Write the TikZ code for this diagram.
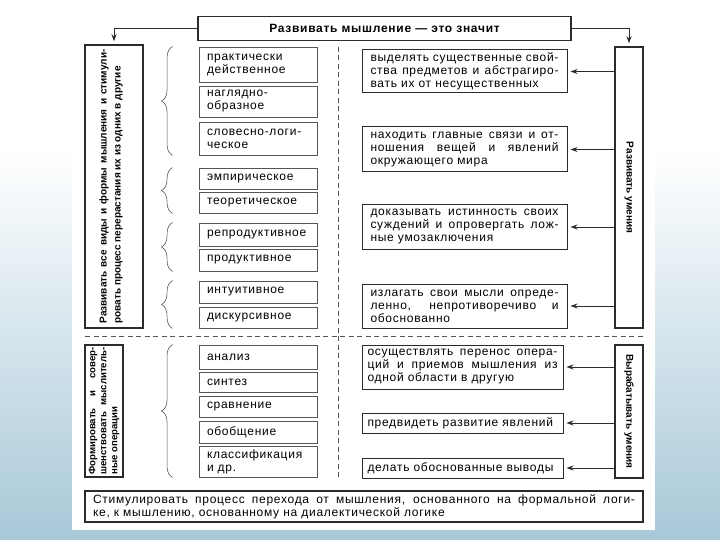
\documentclass[tikz,border=0pt]{standalone}
\usepackage{fontspec}
\setmainfont{Liberation Sans}
\newfontfamily\boxfont[LetterSpace=6]{Liberation Sans}
\newfontfamily\labelfont{Liberation Sans}
\usetikzlibrary{arrows.meta,decorations.pathreplacing}
\definecolor{SlideBlue}{HTML}{A8C8D8}
\definecolor{InkGray}{HTML}{2B2B2B}
\definecolor{FrameGray}{HTML}{555555}

\begin{document}
\begin{tikzpicture}[
    x=1pt,y=-1pt,
    font=\boxfont\fontsize{12}{13}\selectfont,
    >={Stealth[length=7pt,width=5pt]},
    headbox/.style={draw=InkGray,line width=1.4pt,minimum width=373pt,minimum height=24pt,font=\boxfont\bfseries\fontsize{12}{13}\selectfont},
    formbox/.style={draw=FrameGray,line width=0.9pt,text width=102pt,inner xsep=8pt,inner ysep=0pt,align=left},
    skillbox/.style={draw=InkGray,line width=1pt,text width=188pt,inner xsep=8.5pt,inner ysep=0pt,align=justify},
    lowbox/.style={skillbox,text width=190pt,inner xsep=5.5pt},
    tallbox/.style={draw=InkGray,line width=1.5pt,inner sep=0pt},
    vlabel/.style={font=\labelfont\bfseries\fontsize{10}{14}\selectfont,align=justify,inner sep=0pt},
    arr/.style={->,line width=0.9pt,draw=InkGray,shorten >=3pt},
    sep/.style={dash pattern=on 5pt off 3.5pt,line width=0.8pt,draw=FrameGray},
    brace/.style={decorate,decoration={brace,amplitude=11pt},line width=0.6pt,draw=FrameGray}
  ]
  \useasboundingbox (0,0) rectangle (720,540);
  \fill[white] (0,0) rectangle (720,540);
  \shade[top color=white,bottom color=SlideBlue] (0,150) rectangle (720,540);
  \fill[white] (72,0) rectangle (655,530);

  \node[headbox] (head) at (384.5,28.5) {Развивать мышление — это значит};

  \node[tallbox,minimum width=58pt,minimum height=283pt] (allforms) at (114,186.5) {};
  \node[vlabel,rotate=90,text width=274pt] at ([xshift=-3pt]allforms.center) {Развивать все виды и формы мышления и стимули-\linebreak ровать процесс перерастания их из одних в другие};
  \node[tallbox,minimum width=28pt,minimum height=281pt] (skills) at (629,187.5) {};
  \node[vlabel,rotate=-90] at (skills) {Развивать умения};
  \node[tallbox,minimum width=38pt,minimum height=132pt] (operations) at (104,411) {};
  \node[vlabel,rotate=90,text width=127pt,font=\labelfont\bfseries\fontsize{9.6}{11}\selectfont] at (operations) {Формировать и совер-\linebreak шенствовать мыслитель-\linebreak ные операции};
  \node[tallbox,minimum width=28pt,minimum height=133pt] (produce) at (629,411.5) {};
  \node[vlabel,rotate=-90] at (produce) {Вырабатывать умения};

  \node[formbox,minimum height=35pt] (prakt) at (258,64.5) {практически\\действенное};
  \node[formbox,minimum height=31pt] (nagl) at (258,101.5) {наглядно-\\образное};
  \node[formbox,minimum height=33pt] (slov) at (258,138.5) {словесно-логи-\\ческое};
  \node[formbox,minimum height=21pt] (emp) at (258,178.5) {эмпирическое};
  \node[formbox,minimum height=21pt] (teor) at (258,202.5) {теоретическое};
  \node[formbox,minimum height=23pt] (repr) at (258,234.5) {репродуктивное};
  \node[formbox,minimum height=22pt] (prod) at (258,260) {продуктивное};
  \node[formbox,minimum height=22pt] (intu) at (258,292) {интуитивное};
  \node[formbox,minimum height=21pt] (disk) at (258,317.5) {дискурсивное};
  \node[formbox,minimum height=24pt] (anal) at (258,357) {анализ};
  \node[formbox,minimum height=20pt] (sint) at (258,382) {синтез};
  \node[formbox,minimum height=21pt] (srav) at (258,406.5) {сравнение};
  \node[formbox,minimum height=22pt] (obob) at (258,432) {обобщение};
  \node[formbox,minimum height=31pt] (klass) at (258,461.5) {классификация\\и др.};

  \node[skillbox,minimum height=43pt] (abstr) at (464.5,71.5) {выделять существенные свой-\linebreak ства предметов и абстрагиро-\linebreak вать их от несущественных};
  \node[skillbox,minimum height=45pt] (links) at (464.5,149.5) {находить главные связи и от-\linebreak ношения вещей и явлений\linebreak окружающего мира};
  \node[skillbox,minimum height=44pt] (prove) at (464.5,227) {доказывать истинность своих\linebreak суждений и опровергать лож-\linebreak ные умозаключения};
  \node[skillbox,minimum height=44pt] (state) at (464.5,306) {излагать свои мысли опреде-\linebreak ленно, непротиворечиво и\linebreak обоснованно};
  \node[lowbox,minimum height=44pt] (transfer) at (462.5,367) {осуществлять перенос опера-\linebreak ций и приемов мышления из\linebreak одной области в другую};
  \node[lowbox,minimum height=20pt] (foresee) at (462.5,423) {предвидеть развитие явлений};
  \node[lowbox,minimum height=20pt] (conclude) at (462.5,468) {делать обоснованные выводы};

  \node[skillbox,text width=542pt,inner xsep=8pt,minimum height=31pt,line width=1.4pt] (stim) at (364,506.5) {Стимулировать процесс перехода от мышления, основанного на формальной логи-\linebreak ке, к мышлению, основанному на диалектической логике};

  \draw[arr] (head.west) -| (allforms.north);
  \draw[arr] (head.east) -| (skills.north);
  \foreach \b in {abstr,links,prove,state}
    \draw[arr] (skills.west |- \b.east) -- (\b.east);
  \foreach \b in {transfer,foresee,conclude}
    \draw[arr] (produce.west |- \b.east) -- (\b.east);

  \draw[brace] ([xshift=-26pt]slov.south west) -- ([xshift=-26pt]prakt.north west);
  \draw[brace] ([xshift=-26pt]teor.south west) -- ([xshift=-26pt]emp.north west);
  \draw[brace] ([xshift=-26pt]prod.south west) -- ([xshift=-26pt]repr.north west);
  \draw[brace] ([xshift=-26pt]disk.south west) -- ([xshift=-26pt]intu.north west);
  \draw[brace] ([xshift=-26pt]klass.south west) -- ([xshift=-26pt]anal.north west);

  \draw[sep] (85,336) -- (645,336);
  \draw[sep] (338,47) -- (338,477);
\end{tikzpicture}
\end{document}
